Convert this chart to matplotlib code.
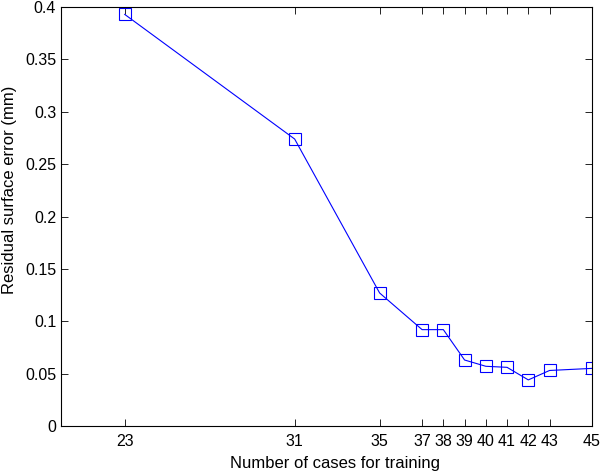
import matplotlib
matplotlib.use("Agg")
import matplotlib.pyplot as plt

plt.rcParams['font.family'] = ['Liberation Sans', 'DejaVu Sans']

# training set size vs residual surface error
n_cases = [23, 31, 35, 37, 38, 39, 40, 41, 42, 43, 45]
residual_mm = [0.393, 0.274, 0.127, 0.092, 0.092, 0.063, 0.057, 0.056, 0.044, 0.053, 0.055]
y_ticks = [0, 0.05, 0.1, 0.15, 0.2, 0.25, 0.3, 0.35, 0.4]
y_labels = ['0', '0.05', '0.1', '0.15', '0.2', '0.25', '0.3', '0.35', '0.4']

fig = plt.figure(figsize=(6, 4.72), dpi=100)
ax = fig.add_axes([0.1017, 0.0975, 0.885, 0.8875])

ax.plot(n_cases, residual_mm, color='#0000ff', lw=0.8, marker='s',
        markersize=8, markerfacecolor='none', markeredgecolor='#0000ff',
        markeredgewidth=0.8)

ax.set_xlim(20, 45)
ax.set_ylim(0, 0.4)
ax.set_xticks(n_cases)
ax.set_xticklabels([str(n) for n in n_cases])
ax.set_yticks(y_ticks)
ax.set_yticklabels(y_labels)
ax.tick_params(direction='in', top=True, right=True, labelsize=11.5, length=5, width=0.6)
ax.tick_params(axis='x', pad=6)
for s in ax.spines.values():
    s.set_linewidth(0.8)

ax.set_xlabel('Number of cases for training', fontsize=12, labelpad=5)
ax.set_ylabel('Residual surface error (mm)', fontsize=12, labelpad=6)
# labels sit a little off-centre in the original
ax.xaxis.label.set_x(0.516)
ax.yaxis.label.set_y(0.563)

fig.savefig('out.png', dpi=100)
